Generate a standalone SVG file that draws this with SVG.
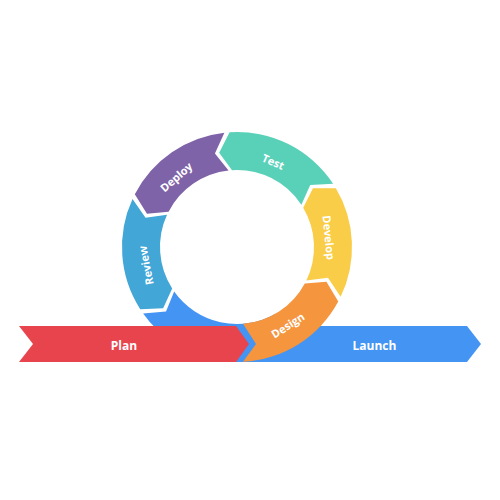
<svg xmlns="http://www.w3.org/2000/svg" width="500" height="500" viewBox="0 0 500 500">
<style>
.lbl{font-family:"Open Sans","Liberation Sans",sans-serif;font-weight:700;fill:#fff;text-anchor:middle;dominant-baseline:central}
.bar{font-size:12px}
.ring{font-size:11px}
</style>
<rect width="500" height="500" fill="#fff"/>
<g id="connectors">
<path id="launch-ring" d="M174.16,291.50 L166.00,311.61 L143.14,313.45 A115,115 0 0 0 294.5,346.59 L275.5,313.68 A77,77 0 0 1 174.16,291.50 Z" fill="#4494F3"/>
</g>
<g id="launch">
<polygon points="225,326 467,326 481,344 467,362 225,362" fill="#4494F3"/>
<text class="lbl bar" x="374.5" y="345">Launch</text>
</g>
<g id="design">
<path d="M243,361.84 A115,115 0 0 0 338.26,301.52 L326.44,281.87 L304.80,283.50 A77,77 0 0 1 243,323.77 L256,344 Z" fill="#F5953E"/>
<text class="lbl ring" transform="translate(287.65,325) rotate(-33)">Design</text>
</g>
<g id="develop">
<path d="M340.62,296.87 A115,115 0 0 0 335.88,188.29 L312.96,188.29 L303.21,207.69 A77,77 0 0 1 306.38,280.39 L327.93,277.78 Z" fill="#F9CD47"/>
<text class="lbl ring" transform="translate(329.2,237.5) rotate(84)">Develop</text>
</g>
<g id="test">
<path d="M333.12,183.86 A115,115 0 0 0 229.58,132.24 L219.18,152.67 L232.03,170.16 A77,77 0 0 1 301.36,204.73 L310.22,184.91 Z" fill="#59D1B9"/>
<text class="lbl ring" transform="translate(273.34,161.39) rotate(23)">Test</text>
</g>
<g id="deploy">
<path d="M224.38,132.69 A115,115 0 0 0 134.81,194.26 L146.96,213.69 L168.58,211.68 A77,77 0 0 1 228.55,170.47 L214.92,153.57 Z" fill="#7F63A8"/>
<text class="lbl ring" transform="translate(175.99,176.81) rotate(-41)">Deploy</text>
</g>
<g id="review">
<path d="M132.52,198.94 A115,115 0 0 0 140.23,309.13 L163.14,308.32 L172.20,288.60 A77,77 0 0 1 167.04,214.82 L145.54,217.81 Z" fill="#42A6D7"/>
<text class="lbl ring" transform="translate(145.5,265.5) rotate(-101)">Review</text>
</g>
<g id="plan">
<polygon points="19,326 236,326 249,344 236,362 19,362 33,344" fill="#E8444E"/>
<text class="lbl bar" x="124" y="345">Plan</text>
</g>
</svg>
